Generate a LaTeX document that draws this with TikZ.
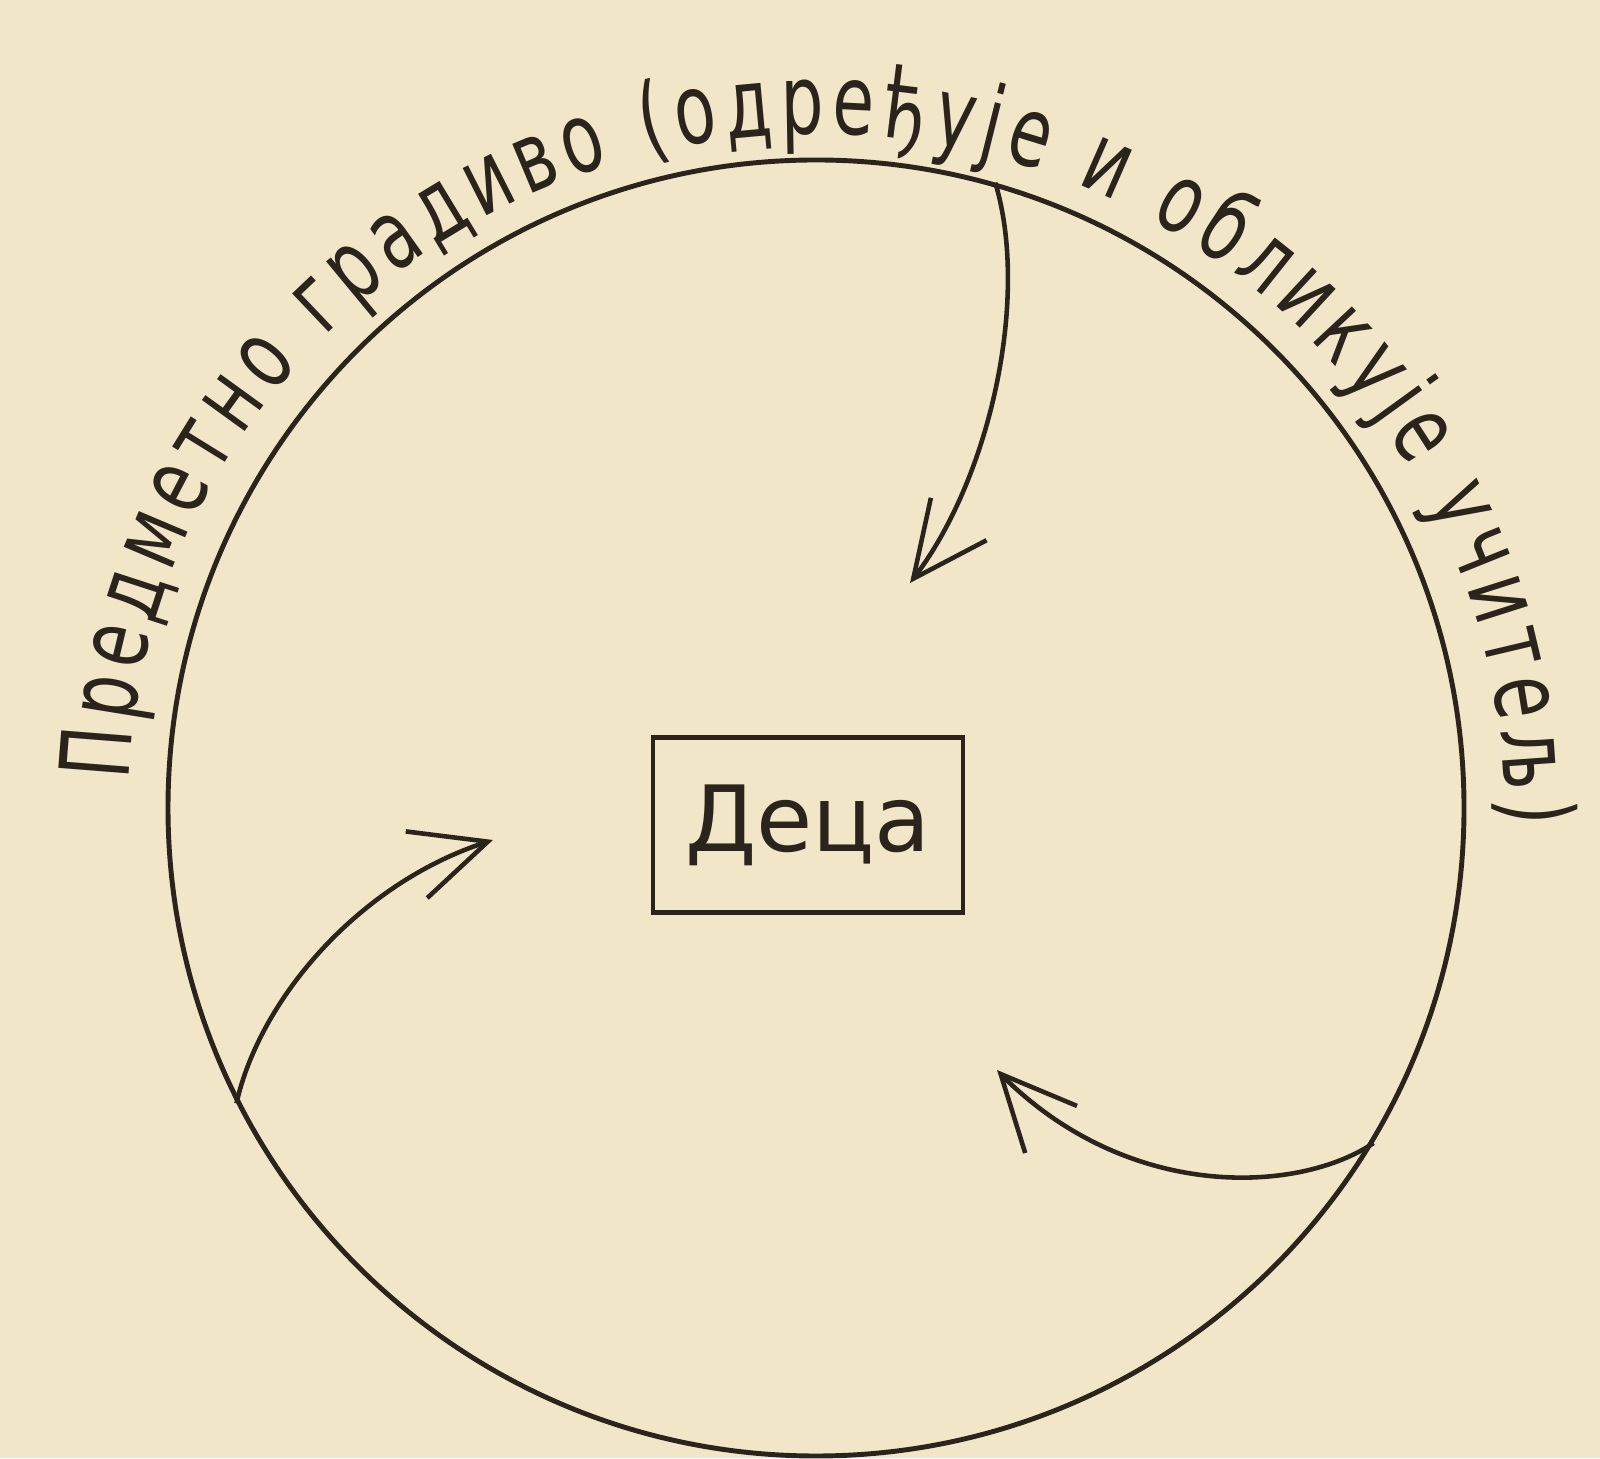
\documentclass[tikz,border=0pt]{standalone}
\usepackage{fontspec}
\setmainfont{DejaVu Sans}
\newfontfamily\arcfont[FakeStretch=0.7]{DejaVu Sans}
\usepackage{xcolor}
\usepackage{tikz}
\usetikzlibrary{arrows.meta,decorations.text}
\definecolor{ink}{HTML}{2B241C}
\definecolor{paper}{HTML}{F2E6C8}

\begin{document}
\begin{tikzpicture}[line width=1.4pt,
  flow/.style={draw=ink,line width=1.3pt,-{Straight Barb[length=7.5mm,width=7mm]}}]
  \fill[paper] (0,0) rectangle (16,14.58);
  \useasboundingbox (0,0) rectangle (16,14.58);
  \node[circle,draw=ink,minimum size=12.96cm,inner sep=0pt] (ring) at (8.16,6.5) {};
  \node[draw=ink,minimum width=3.1cm,minimum height=1.75cm,text=ink,font=\fontsize{26pt}{30pt}\selectfont] (kids) at (8.08,6.33) {Деца};
  \path[decorate,decoration={text along path,text align={fit to path},
    text={|\arcfont\fontsize{27.5pt}{30pt}\selectfont\color{ink}|Предметно градиво (одређује и обликује учитељ)}}]
    (ring.center) ++(177.7:6.88 and 6.74) arc[start angle=177.7,end angle=-1.4,x radius=6.88,y radius=6.74];
  \coordinate (tip1) at (9.10,8.75);
  \coordinate (tip2) at (4.93,6.18);
  \coordinate (tip3) at (9.97,3.88);
  \draw[flow] (ring.74) .. controls (10.3,11.6) and (9.9,9.8) .. (tip1);
  \draw[flow] (ring.207) .. controls (2.6,4.6) and (3.6,5.75) .. (tip2);
  \draw[flow] (ring.-31) .. controls (13.0,2.65) and (11.3,2.55) .. (tip3);
\end{tikzpicture}
\end{document}
